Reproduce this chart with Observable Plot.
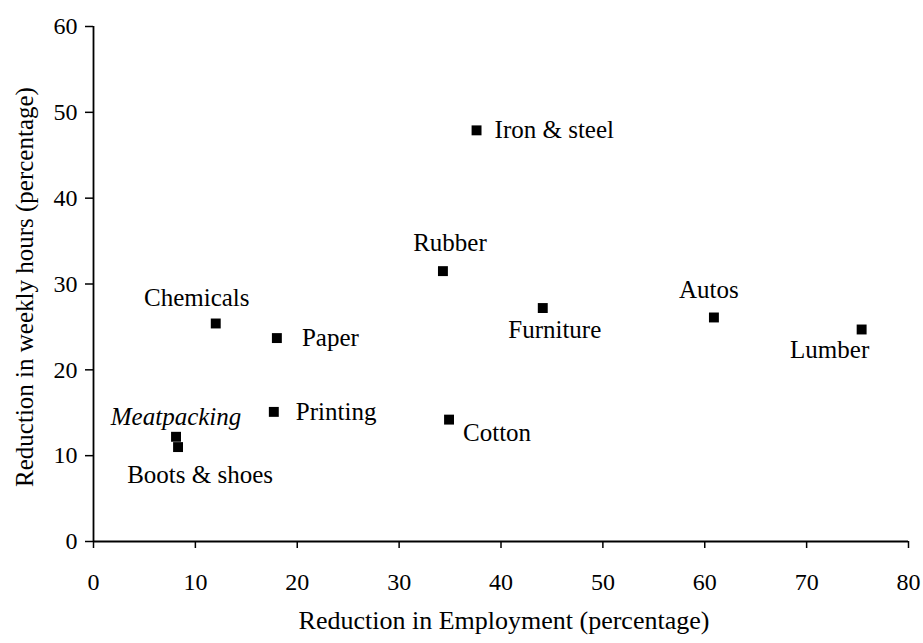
<!DOCTYPE html>
<html>
<head>
<meta charset="utf-8">
<script src="https://cdn.jsdelivr.net/npm/d3@7"></script>
<script src="https://cdn.jsdelivr.net/npm/@observablehq/plot@0.6"></script>
<style>
  html, body { margin: 0; padding: 0; background: #fff; }
  #chart svg { display: block; }
</style>
</head>
<body>
<div id="chart"></div>
<script>
// ---- data ----
const industries = ["Iron & steel", "Rubber", "Furniture", "Autos", "Lumber", "Chemicals", "Paper", "Printing", "Meatpacking", "Boots & shoes", "Cotton"];
const employmentReduction = [37.6, 34.3, 44.1, 60.9, 75.4, 12.0, 18.0, 17.7, 8.1, 8.3, 34.9];
const hoursReduction = [47.9, 31.5, 27.2, 26.1, 24.7, 25.4, 23.7, 15.1, 12.2, 11.0, 14.2];
const xTicks = [0, 10, 20, 30, 40, 50, 60, 70, 80];
const yTicks = [0, 10, 20, 30, 40, 50, 60];
const xTitle = ["Reduction in Employment (percentage)"];
const yTitle = ["Reduction in weekly hours (percentage)"];

// ---- label placement (layout only) ----
const labelPlacement = {
  "Iron & steel": {dx: 18, dy: 0, anchor: "start"},
  "Rubber": {dx: 7, dy: -28, anchor: "middle"},
  "Furniture": {dx: 12, dy: 22, anchor: "middle"},
  "Autos": {dx: -5, dy: -27, anchor: "middle"},
  "Lumber": {dx: -32, dy: 21, anchor: "middle"},
  "Chemicals": {dx: -19, dy: -25, anchor: "middle"},
  "Paper": {dx: 25, dy: 0, anchor: "start"},
  "Printing": {dx: 22, dy: 0, anchor: "start"},
  "Meatpacking": {dx: 0, dy: -20, anchor: "middle", italic: true},
  "Boots & shoes": {dx: 22, dy: 28, anchor: "middle"},
  "Cotton": {dx: 14, dy: 13, anchor: "start"}
};

const data = industries.map((name, i) => ({name, x: employmentReduction[i], y: hoursReduction[i]}));

const font = "'Liberation Serif', 'Times New Roman', serif";
const tickFs = 24;
const labelFs = 25;

const labelMarks = data.map(d => {
  const p = labelPlacement[d.name];
  return Plot.text([d], {
    x: "x", y: "y", text: "name",
    dx: p.dx, dy: p.dy, textAnchor: p.anchor,
    fontSize: labelFs, fontStyle: p.italic ? "italic" : "normal",
    fill: "black"
  });
});

const chart = Plot.plot({
  width: 923,
  height: 643,
  marginLeft: 93,
  marginRight: 15,
  marginTop: 26,
  marginBottom: 102,
  style: {fontFamily: font, fontSize: tickFs + "px", color: "black", background: "white"},
  x: {domain: [0, 80]},
  y: {domain: [0, 60]},
  marks: [
    Plot.axisX({ticks: xTicks, tickSize: 7, tickPadding: 24, fontSize: tickFs, strokeWidth: 1.5, label: null}),
    Plot.axisY({ticks: yTicks, tickSize: 8, tickPadding: 8, fontSize: tickFs, strokeWidth: 1.5, label: null}),
    Plot.ruleX([0], {stroke: "black", strokeWidth: 1.8}),
    Plot.ruleY([0], {stroke: "black", strokeWidth: 1.8}),
    Plot.dot(data, {x: "x", y: "y", symbol: "square", r: 5.6, fill: "black", stroke: "none"}),
    ...labelMarks,
    Plot.text(xTitle, {frameAnchor: "bottom", dy: 87, dx: 3, text: d => d, textAnchor: "middle", fontSize: 26, fill: "black"}),
    Plot.text(yTitle, {frameAnchor: "left", dx: -69, dy: 3, rotate: -90, text: d => d, textAnchor: "middle", fontSize: 25, fill: "black"})
  ]
});

document.getElementById("chart").appendChild(chart);
</script>
</body>
</html>
